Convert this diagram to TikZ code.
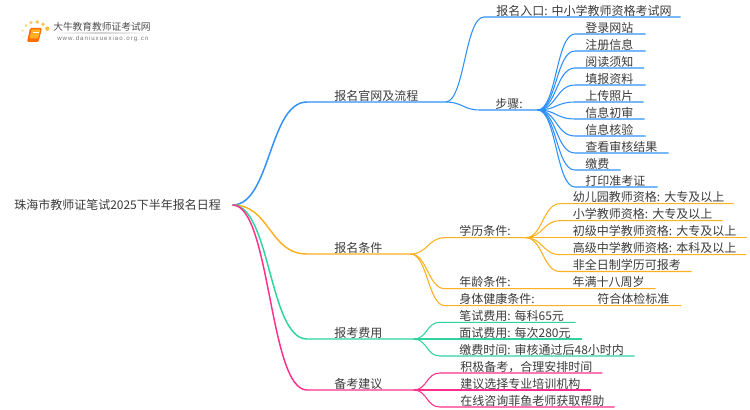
\documentclass[tikz,border=0pt]{standalone}
\usepackage{fontspec}
\setmainfont{Noto Sans CJK SC}
\newfontfamily\urlfont[LetterSpace=16]{Liberation Sans}
\usetikzlibrary{positioning,calc}
\definecolor{bluebr}{HTML}{2E90FA}
\definecolor{orangebr}{HTML}{FDB022}
\definecolor{greenbr}{HTML}{2ED3A0}
\definecolor{pinkbr}{HTML}{FF2E8B}
\definecolor{inktext}{HTML}{3A3A3A}
\frenchspacing

\begin{document}
\begin{tikzpicture}[
  x=0.75pt, y=-0.75pt,
  leaf/.style 2 args={anchor=south west, inner sep=0pt, text width=#1, align=left,
    text height=8pt, text depth=1.1pt, font=\fontsize{9}{9}\selectfont, text=inktext,
    execute at begin node={\hspace*{#2}}},
  curve/.style={to path={.. controls +(#1,0) and +(-#1,0) .. (\tikztotarget)}},
  wire/.style={line width=0.8pt},
  trunk/.style={line width=1.1pt}
]
  \useasboundingbox (0,0) rectangle (750,410);

  % logo
  \foreach \dotx/\doty/\dotr/\dotc in {22.7/37/1.1/25, 23.7/42/.9/15, 22.7/30.7/1.3/40, 26/25.7/1.5/55,
      31/22.7/1.8/70, 37.3/22/1.9/80, 43/24.3/1.8/80, 47.3/28.7/2.1/90}
    \fill[orangebr!\dotc!white] (\dotx,\doty) circle (\dotr);
  \fill[orange!85!red, rounded corners=1pt] (30,28) -- (42,28) -- (38.5,42) -- (27,42) -- cycle;
  \fill[orangebr, rounded corners=.5pt] (31.5,29.5) -- (40.5,29.5) -- (38,38.5) -- (29.5,38.5) -- cycle;
  \draw[white, line width=.4pt] (32.5,32) -- (38.5,32);
  \node[inner sep=0pt, anchor=west, text=black!70, font=\fontsize{7.3}{7.3}\selectfont] (brand) at (53,27) {大牛教育教师证考试网};
  \shade[left color=white, right color=white, middle color=black!18] (53,33) rectangle (150,34);
  \node[inner sep=0pt, anchor=west, text=black!55, font=\urlfont\fontsize{4.6}{5}\selectfont] (url) at (57,39) {www.daniuxuexiao.org.cn};

  % root
  \node[inner sep=0pt, anchor=west, text width=163.5pt, align=left, text=inktext,
    font=\fontsize{9}{9}\selectfont] (root) at (14,205) {珠海市教师证笔试2025下半年报名日程};

  % first branch
  \node[leaf={103.5pt}{20.25pt}] (site) at (307,102) {报名官网及流程};
  \node[leaf={147pt}{9pt}] (entry) at (484,17) {报名入口: 中小学教师资格考试网};
  \node[leaf={42.75pt}{11.25pt}] (steps) at (480,110) {步骤:};
  \foreach \i/\posy/\linew/\leaftext in {1/34/52.5pt/登录网站, 2/51/52.5pt/注册信息, 3/68/51.4pt/阅读须知,
      4/85/52.5pt/填报资料, 5/102/51pt/上传照片, 6/119/51.75pt/信息初审, 7/136/52.5pt/信息核验,
      8/153/69.75pt/查看审核结果, 9/170/33.75pt/缴费, 10/187/61.5pt/打印准考证} {
    \node[leaf={\linew}{7.5pt}] (s\i) at (575,\posy) {\leaftext};
    \draw[bluebr, wire] (steps.south east) to[curve=19] (s\i.south west) -- (s\i.south east);
  }
  \draw[bluebr, wire] (site.south east) to[curve=19] (entry.south west) -- (entry.south east);
  \draw[bluebr, wire] (site.south east) to[curve=17] (steps.south west) -- (steps.south east);
  \draw[bluebr, trunk] (root.east) to[curve=38] (site.south west) -- (site.south east);

  % second branch
  \node[leaf={77.25pt}{20.25pt}] (cond) at (307,254) {报名条件};
  \node[leaf={60pt}{10.5pt}] (edu) at (445,237.7) {学历条件:};
  \node[leaf={157.5pt}{10.5pt}] (age) at (445,288.7) {\makebox[85.1pt][l]{年龄条件:}年满十八周岁};
  \node[leaf={176.8pt}{10.5pt}] (health) at (445,305.7) {\makebox[103.5pt][l]{身体健康条件:}符合体检标准};
  \foreach \i/\posy/\linew/\leaftext in {1/203.7/129.75pt/幼儿园教师资格: 大专及以上, 2/220.7/121.5pt/小学教师资格: 大专及以上,
      3/237.7/139.5pt/初级中学教师资格: 大专及以上, 4/254.7/139.3pt/高级中学教师资格: 本科及以上,
      5/271.5/98.25pt/非全日制学历可报考} {
    \node[leaf={\linew}{9.5pt}] (e\i) at (560,\posy) {\leaftext};
    \draw[orangebr, wire] (edu.south east) to[curve=17] (e\i.south west) -- (e\i.south east);
  }
  \draw[orangebr, wire] (cond.south east) to[curve=17] (edu.south west) -- (edu.south east);
  \draw[orangebr, wire] (cond.south east) to[curve=17] (age.south west) -- (age.south east);
  \draw[orangebr, wire] (cond.south east) to[curve=17] (health.south west) -- (health.south east);
  \draw[orangebr, trunk] (root.east) to[curve=38] (cond.south west) -- (cond.south east);

  % third branch
  \node[leaf={79.5pt}{20.25pt}] (fee) at (307,339) {报考费用};
  \node[leaf={101.25pt}{14.25pt}] (wfee) at (440,322.3) {笔试费用: 每科65元};
  \node[leaf={105.75pt}{14.25pt}] (ifee) at (440,339) {面试费用: 每次280元};
  \node[leaf={145.5pt}{14.25pt}] (ptime) at (440,356) {缴费时间: 审核通过后48小时内};
  \foreach \n in {wfee,ifee,ptime}
    \draw[greenbr, wire] (fee.south east) to[curve=14] (\n.south west) -- (\n.south east);
  \draw[greenbr, trunk] (root.east) to[curve=38] (fee.south west) -- (fee.south east);

  % fourth branch
  \node[leaf={79.5pt}{20.25pt}] (tips) at (307,390) {备考建议};
  \node[leaf={121.3pt}{15pt}] (t1) at (440,373) {积极备考，合理安排时间};
  \node[leaf={112.5pt}{15pt}] (t2) at (440,390) {建议选择专业培训机构};
  \node[leaf={130.5pt}{15pt}] (t3) at (440,407) {在线咨询菲鱼老师获取帮助};
  \foreach \n in {t1,t2,t3}
    \draw[pinkbr, wire] (tips.south east) to[curve=14] (\n.south west) -- (\n.south east);
  \draw[pinkbr, trunk] (root.east) to[curve=38] (tips.south west) -- (tips.south east);
\end{tikzpicture}
\end{document}
